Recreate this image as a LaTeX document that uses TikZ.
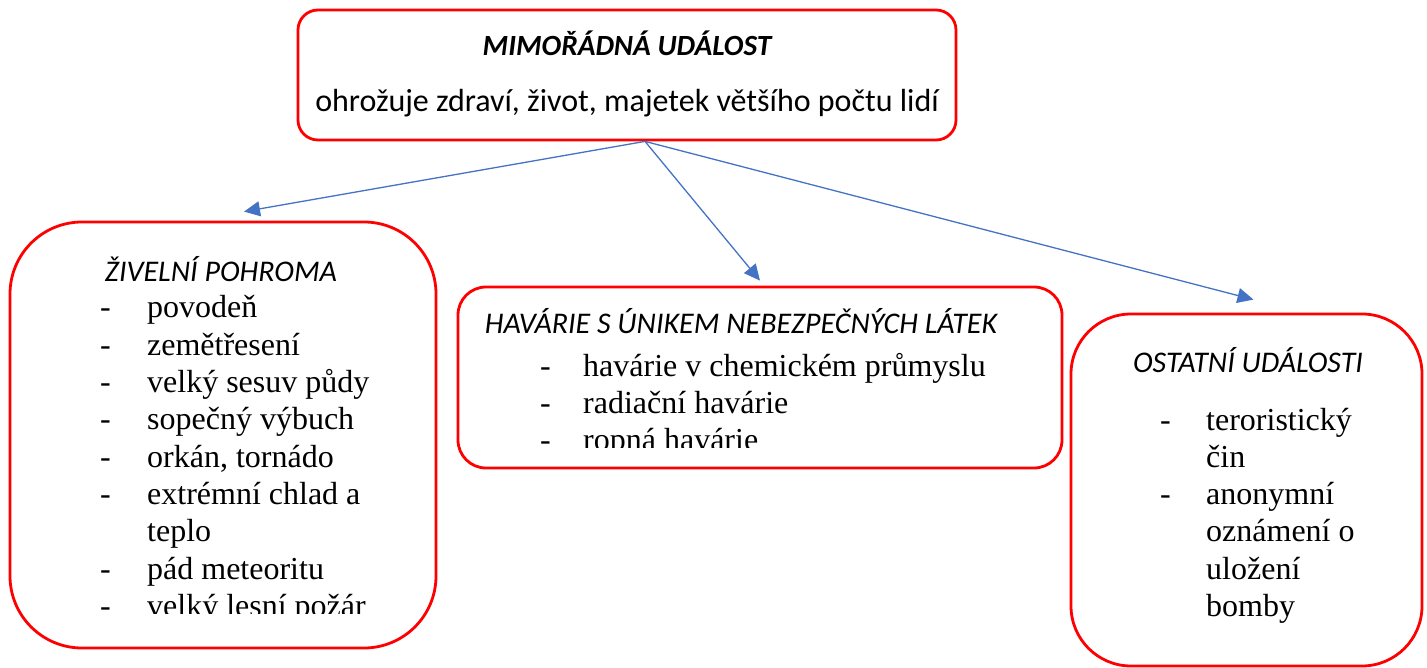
\documentclass[tikz,border=0pt]{standalone}
\usepackage{fontspec}
\setmainfont{Liberation Serif}
\newfontfamily\calibri{Carlito}
\usepackage{tikz}
\usetikzlibrary{arrows.meta,positioning}
\usepackage{xcolor}
\definecolor{mured}{RGB}{255,0,0}
\definecolor{mublue}{RGB}{68,114,196}
\tikzstyle{arrow} = [line width=1.3pt,-{Triangle[length=16pt,width=15pt]},color=mublue]
\tikzstyle{eventbox} = [rectangle, draw=mured, line width=2.8pt, inner sep=0pt]
\tikzstyle{head} = [anchor=base, inner sep=0pt, font=\calibri\fontsize{30}{35}\itshape]
\tikzstyle{itemlist} = [anchor=base west, inner sep=0pt, font=\fontsize{32}{37.3}\selectfont]

\begin{document}
\begin{tikzpicture}[x=1pt, y=-1pt]
\useasboundingbox (0,0) rectangle (1427,668);
% Boxes
\node (event) [eventbox, rounded corners=20pt, minimum width=658pt, minimum height=130pt] at (627,75) {};
\node (zivel) [eventbox, rounded corners=72pt, minimum width=426pt, minimum height=426pt] at (223,435) {};
\node (havarie) [eventbox, rounded corners=28pt, minimum width=604pt, minimum height=181pt] at (760,377.5) {};
\node (ostatni) [eventbox, rounded corners=60pt, minimum width=351pt, minimum height=352pt] at (1246.5,490) {};

% Texts
\node (eventhead) [head, font=\calibri\fontsize{29.3}{34}\bfseries\itshape] at (627,56) {MIMOŘÁDNÁ UDÁLOST};
\node (eventtext) [head, font=\calibri\fontsize{32}{37}\selectfont] at (627,112) {ohrožuje zdraví, život, majetek většího počtu lidí};
\node (zivelhead) [head] at (221,282) {ŽIVELNÍ POHROMA};
\node (havariehead) [head] at (741,334) {HAVÁRIE S ÚNIKEM NEBEZPEČNÝCH LÁTEK};
\node (ostatnihead) [head] at (1248,372) {OSTATNÍ UDÁLOSTI};

\begin{scope}
\clip (0,0) rectangle (440,613);
\node (zivellist) [itemlist] at (100,318) {\begin{tabular}[t]{@{}p{47pt}@{}l@{}}
- & povodeň\\
- & zemětřesení\\
- & velký sesuv půdy\\
- & sopečný výbuch\\
- & orkán, tornádo\\
- & extrémní chlad a\\
  & teplo\\
- & pád meteoritu\\
- & velký lesní požár
\end{tabular}};
\end{scope}

\begin{scope}
\clip (450,0) rectangle (1066,447);
\node (havarielist) [itemlist] at (540,376) {\begin{tabular}[t]{@{}p{43pt}@{}l@{}}
- & havárie v chemickém průmyslu\\
- & radiační havárie\\
- & ropná havárie
\end{tabular}};
\end{scope}

\node (ostatnilist) [itemlist] at (1160,430) {\begin{tabular}[t]{@{}p{46pt}@{}l@{}}
- & teroristický\\
  & čin\\
- & anonymní\\
  & oznámení o\\
  & uložení\\
  & bomby
\end{tabular}};

% Arrows
\coordinate (src) at ([xshift=18pt]event.south);
\draw[arrow] (src) -- ([xshift=21pt,yshift=9pt]zivel.north);
\draw[arrow] (src) -- ([yshift=5pt]havarie.north);
\draw[arrow] (src) -- ([xshift=7pt,yshift=13pt]ostatni.north);
\end{tikzpicture}
\end{document}
